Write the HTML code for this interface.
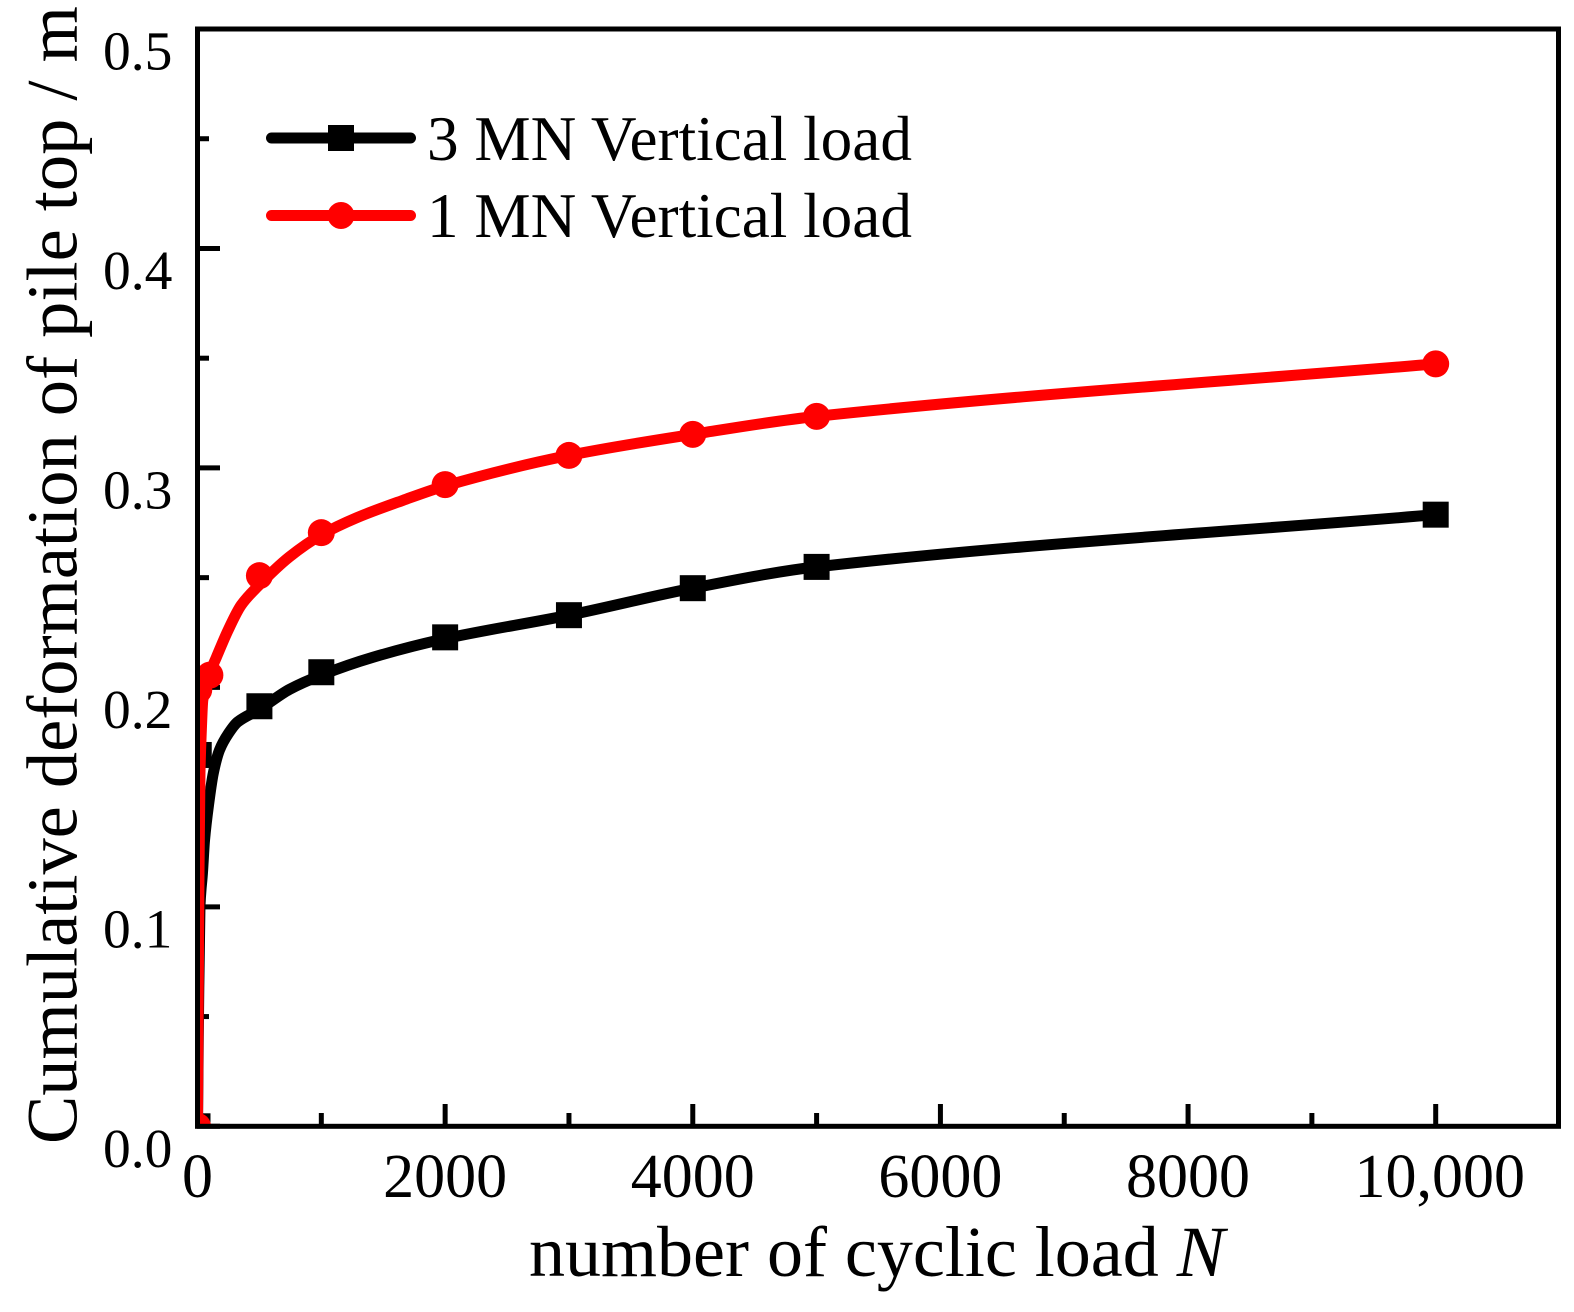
<!DOCTYPE html>
<html>
<head>
<meta charset="utf-8">
<title>Cumulative deformation chart</title>
<style>
html,body{margin:0;padding:0;background:#fff;}
svg{display:block;}
text{font-family:"Liberation Serif",serif;fill:#000;}
</style>
</head>
<body>
<svg id="chart" width="1574" height="1312" viewBox="0 0 1574 1312" xmlns="http://www.w3.org/2000/svg">
<defs><clipPath id="plot-clip"><rect x="197.5" y="29" width="1361" height="1097.5"/></clipPath></defs>
<g id="ticks"></g>
<g id="tick-labels"></g>
<g id="series" clip-path="url(#plot-clip)"></g>
<rect x="197.5" y="29" width="1361" height="1097.3" fill="none" stroke="#000" stroke-width="5"/>
<text x="529" y="1276" font-size="72">number of cyclic load <tspan font-style="italic">N</tspan></text>
<text transform="translate(76.5,1144) rotate(-90)" font-size="72.4">Cumulative deformation of pile top / m</text>
<g>
<g>
<line x1="271.5" y1="138" x2="410.5" y2="138" stroke="#000" stroke-width="11" stroke-linecap="round"/>
<rect x="328" y="125" width="26" height="26" fill="#000"/>
<text x="427" y="160" font-size="63.2">3 MN Vertical load</text>
</g>
<g>
<line x1="271.5" y1="215.5" x2="410.5" y2="215.5" stroke="#f00" stroke-width="11" stroke-linecap="round"/>
<circle cx="341" cy="215.5" r="13.5" fill="#f00"/>
<text x="427" y="237" font-size="63.2">1 MN Vertical load</text>
</g>
</g>
</svg>
<script>
var xMajorTicks = [0, 2000, 4000, 6000, 8000, 10000];
var xMinorTicks = [1000, 3000, 5000, 7000, 9000];
var xTickLabels = ["0", "2000", "4000", "6000", "8000", "10,000"];
var yMajorTicks = [0, 0.1, 0.2, 0.3, 0.4, 0.5];
var yMinorTicks = [0.05, 0.15, 0.25, 0.35, 0.45];
var yTickLabels = ["0.0", "0.1", "0.2", "0.3", "0.4", "0.5"];

var curveCycles3MN = [0, 8, 20, 40, 57, 89, 128, 178, 250, 323, 500, 743, 1000, 1416, 2000, 3000, 4000, 5000, 10000];
var curveValues3MN = [0, 0.05, 0.1004, 0.1154, 0.1305, 0.1464, 0.161, 0.1715, 0.179, 0.1842, 0.19, 0.1991, 0.2056, 0.2137, 0.2222, 0.2329, 0.2452, 0.2549, 0.2787];
var curveCycles1MN = [0, 12, 20, 30, 43, 70, 110, 151, 245, 353, 487, 743, 1000, 1282, 1658, 2000, 3000, 4000, 5000, 10000];
var curveValues1MN = [0, 0.115, 0.161, 0.179, 0.1943, 0.2003, 0.208, 0.2135, 0.2258, 0.2375, 0.246, 0.2595, 0.2695, 0.2772, 0.2852, 0.2918, 0.3057, 0.3153, 0.3235, 0.3474];

var markerCycles3MN = [0, 10, 500, 1000, 2000, 3000, 4000, 5000, 10000];
var markerValues3MN = [0, 0.1692, 0.1914, 0.2069, 0.2228, 0.2329, 0.2452, 0.2549, 0.2787];
var markerCycles1MN = [0, 10, 100, 500, 1000, 2000, 3000, 4000, 5000, 10000];
var markerValues1MN = [0, 0.1988, 0.2056, 0.2509, 0.2705, 0.2924, 0.3057, 0.3153, 0.3235, 0.3474];

var NS = "http://www.w3.org/2000/svg";
function xScale(n) { return 197.5 + n * (1435.7 - 197.5) / 10000; }
function yScale(v) { return 1126.3 - v * 2194.6; }

function make(tag, attrs, parent) {
  var el = document.createElementNS(NS, tag);
  for (var k in attrs) el.setAttribute(k, attrs[k]);
  parent.appendChild(el);
  return el;
}

function monotonePath(xs, ys) {
  var n = xs.length, d = [], m = [], i;
  for (i = 0; i < n - 1; i++) d.push((ys[i + 1] - ys[i]) / (xs[i + 1] - xs[i]));
  m.push(d[0]);
  for (i = 1; i < n - 1; i++) {
    m.push(d[i - 1] * d[i] <= 0 ? 0 : 2 * d[i - 1] * d[i] / (d[i - 1] + d[i]));
  }
  m.push(d[n - 2]);
  var s = "M" + xs[0] + " " + ys[0];
  for (i = 0; i < n - 1; i++) {
    var h = (xs[i + 1] - xs[i]) / 3;
    s += " C" + (xs[i] + h) + " " + (ys[i] + m[i] * h) + " " + (xs[i + 1] - h) + " " + (ys[i + 1] - m[i + 1] * h) + " " + xs[i + 1] + " " + ys[i + 1];
  }
  return s;
}

var ticksG = document.getElementById("ticks");
var labelsG = document.getElementById("tick-labels");
var seriesG = document.getElementById("series");

xMajorTicks.forEach(function (t, i) {
  var tick = make("line", {x1: xScale(t), x2: xScale(t), y1: 1126, y2: 1104, stroke: "#000", "stroke-width": 5}, ticksG);
  
  
  var shift = xTickLabels[i].length > 4 ? 4 : 0;
  var label = make("text", {x: xScale(t) + shift, y: 1197, "font-size": 62, "text-anchor": "middle"}, labelsG);
  label.textContent = xTickLabels[i];
  
  
});
xMinorTicks.forEach(function (t) {
  var tick = make("line", {x1: xScale(t), x2: xScale(t), y1: 1126, y2: 1113, stroke: "#000", "stroke-width": 5}, ticksG);
  
  
});
yMajorTicks.forEach(function (t, i) {
  var tick = make("line", {x1: 197, x2: 220, y1: yScale(t), y2: yScale(t), stroke: "#000", "stroke-width": 5}, ticksG);
  
  
  var label = make("text", {x: 103, y: yScale(t) + 40.5, "font-size": 55.5}, labelsG);
  label.textContent = yTickLabels[i];
  
  
});
yMinorTicks.forEach(function (t) {
  var tick = make("line", {x1: 197, x2: 209, y1: yScale(t), y2: yScale(t), stroke: "#000", "stroke-width": 5}, ticksG);
  
  
});

var line3 = make("path", {d: monotonePath(curveCycles3MN.map(xScale), curveValues3MN.map(yScale)), fill: "none", stroke: "#000", "stroke-width": 11, "stroke-linejoin": "round"}, seriesG);


markerCycles3MN.forEach(function (n, i) {
  var m = make("rect", {x: xScale(n) - 13, y: yScale(markerValues3MN[i]) - 13, width: 26, height: 26, fill: "#000"}, seriesG);
  
  
});
var line1 = make("path", {d: monotonePath(curveCycles1MN.map(xScale), curveValues1MN.map(yScale)), fill: "none", stroke: "#f00", "stroke-width": 11, "stroke-linejoin": "round"}, seriesG);


markerCycles1MN.forEach(function (n, i) {
  var m = make("circle", {cx: xScale(n), cy: yScale(markerValues1MN[i]), r: 13.5, fill: "#f00"}, seriesG);
  
  
});
</script>
</body>
</html>
